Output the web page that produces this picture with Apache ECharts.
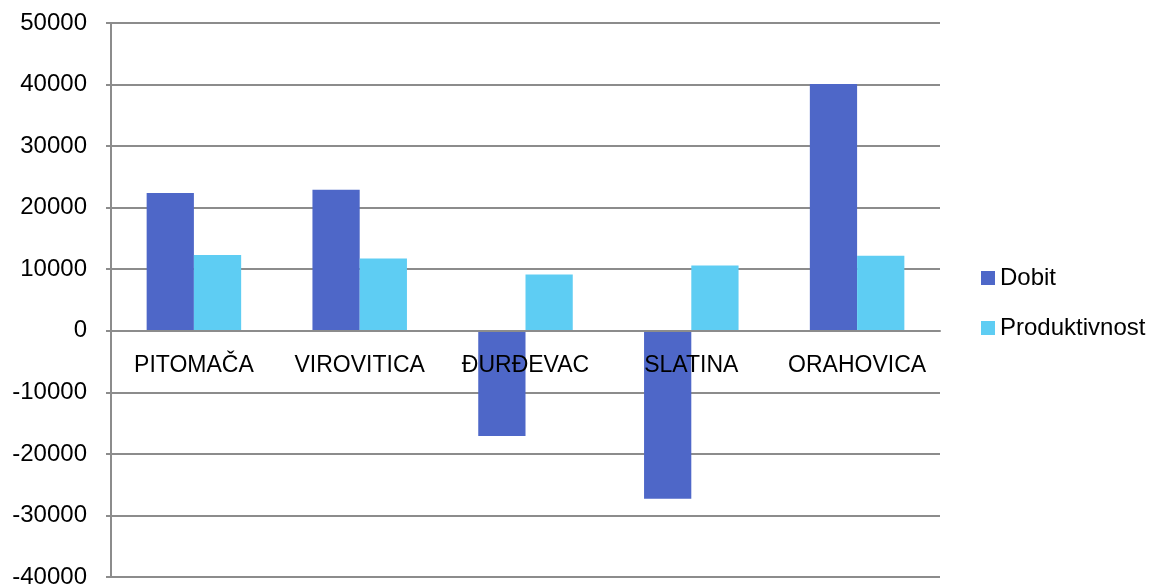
<!DOCTYPE html>
<html>
<head>
<meta charset="utf-8">
<script src="https://cdn.jsdelivr.net/npm/echarts@6/dist/echarts.min.js"></script>
<style>html,body{margin:0;padding:0;background:#fff;}#c{width:1157px;height:584px;}</style>
</head>
<body>
<div id="c"></div>
<script>
const categories = ['PITOMAČA', 'VIROVITICA', 'ĐURĐEVAC', 'SLATINA', 'ORAHOVICA'];
const dobit = [22400, 22900, -17100, -27300, 40100];
const produktivnost = [12300, 11750, 9150, 10600, 12200];
const seriesNames = ['Dobit', 'Produktivnost'];
const yMin = -40000, yMax = 50000, yStep = 10000;

const font = 'Liberation Sans, Arial, sans-serif';
const gridTop = 23, gridBottom = 7, H = 584;
const plotH = H - gridTop - gridBottom;
// shift the category axis up so it sits on the zero line
const zeroOffset = -plotH * (0 - yMin) / (yMax - yMin);

const chart = echarts.init(document.getElementById('c'), null, {renderer: 'canvas'});
chart.setOption({
  animation: false,
  backgroundColor: '#ffffff',
  grid: {left: 111, right: 217, top: gridTop, bottom: gridBottom, containLabel: false, outerBoundsMode: 'none'},
  legend: {
    orient: 'vertical', left: 976, top: 261,
    itemWidth: 14, itemHeight: 14, itemGap: 26,
    icon: 'rect',
    textStyle: {fontFamily: font, fontSize: 24, color: '#000', padding: [0, 0, 0, 0]},
    data: seriesNames
  },
  xAxis: {
    type: 'category', data: categories, position: 'bottom', offset: zeroOffset, z: 10,
    axisLine: {onZero: false, lineStyle: {color: '#8c8c8c', width: 2}},
    axisTick: {show: false},
    axisLabel: {fontFamily: font, fontSize: 23, color: '#000', margin: 23, interval: 0},
    splitLine: {show: false}
  },
  yAxis: {
    type: 'value', min: yMin, max: yMax, interval: yStep,
    axisLine: {show: true, lineStyle: {color: '#8c8c8c', width: 2}},
    axisTick: {show: true, length: 5, lineStyle: {color: '#8c8c8c', width: 2}},
    axisLabel: {fontFamily: font, fontSize: 24, color: '#000', margin: 24,
      formatter: function (v) { return String(v); }},
    splitLine: {show: true, lineStyle: {color: '#8c8c8c', width: 2}}
  },
  series: [
    {name: seriesNames[0], type: 'bar', data: dobit, barGap: '0%', barCategoryGap: '43%',
     itemStyle: {color: '#4e67c8'}},
    {name: seriesNames[1], type: 'bar', data: produktivnost, barGap: '0%', barCategoryGap: '43%',
     itemStyle: {color: '#5ecdf3'}}
  ]
});
</script>
</body>
</html>
